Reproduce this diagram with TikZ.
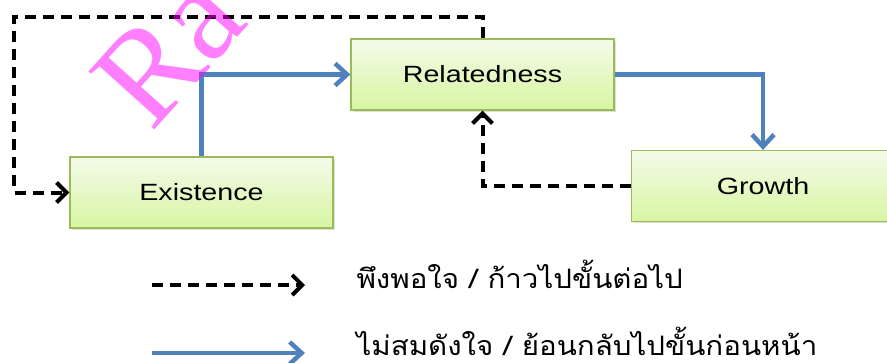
\documentclass[tikz,border=0pt]{standalone}
\usepackage{fontspec}
\setmainfont{Liberation Sans}[FakeStretch=1.22]
\newfontfamily\thaifont[Script=Thai,FakeStretch=1.1]{Loma}
\newfontfamily\markfont{Liberation Serif}
\usetikzlibrary{arrows.meta,shadows}

\definecolor{boxline}{HTML}{9BBB59}
\definecolor{boxtop}{HTML}{F4FBEA}
\definecolor{boxbot}{HTML}{D7F5A2}
\definecolor{flowblue}{HTML}{4F81BD}
\definecolor{stampink}{HTML}{FF00FF}

\tikzset{
  stagebox/.style={draw=boxline,line width=1.2pt,top color=boxtop,bottom color=boxbot,
    minimum width=263pt,minimum height=71pt,
    drop shadow={shadow xshift=1.5pt,shadow yshift=-1.5pt,opacity=.25},
    font=\fontsize{23.5}{27}\selectfont},
  okflow/.style={line width=4pt,dash pattern=on 11pt off 7pt,
    -{Straight Barb[length=10pt,width=20pt,line width=4pt]}},
  backflow/.style={line width=4.5pt,flowblue,
    -{Straight Barb[length=12pt,width=22pt,line width=4.5pt]}},
  keytext/.style={anchor=base west,font=\thaifont\fontsize{26.8}{32}\selectfont}
}

\begin{document}
\begin{tikzpicture}[x=1pt,y=-1pt]
  \clip (0,0) rectangle (887,362);
  \node[stagebox] (exist) at (201.5,192.5) {Existence};
  \node[stagebox] (relat) at (482.5,74.5) {Relatedness};
  \node[stagebox] (grow) at (763,186) {Growth};
  % up and down the ladder
  \draw[backflow] (exist.north) |- (relat.west);
  \draw[backflow] (relat.east) -| (grow.north);
  \coordinate (corner) at (14,17);
  \draw[okflow] (relat.north) |- (corner) |- (exist.west);
  \draw[okflow] (grow.west) -| (relat.south);
  % key
  \coordinate (okA) at (152,285);
  \coordinate (okB) at (305,285);
  \coordinate (backA) at (152,353);
  \coordinate (backB) at (305,353);
  \draw[okflow] (okA) -- (okB);
  \draw[backflow] (backA) -- (backB);
  \node[keytext] (oktext) at (353,288) {พึงพอใจ / ก้าวไปขั้นต่อไป};
  \node[keytext] (backtext) at (353,355) {ไม่สมดังใจ / ย้อนกลับไปขั้นก่อนหน้า};
  % watermark
  \node[anchor=base west,rotate=48,text=stampink,opacity=.5,inner sep=0pt,
    font=\markfont\fontsize{134}{134}\selectfont] (stamp) at (151,134) {Ra};
\end{tikzpicture}
\end{document}
